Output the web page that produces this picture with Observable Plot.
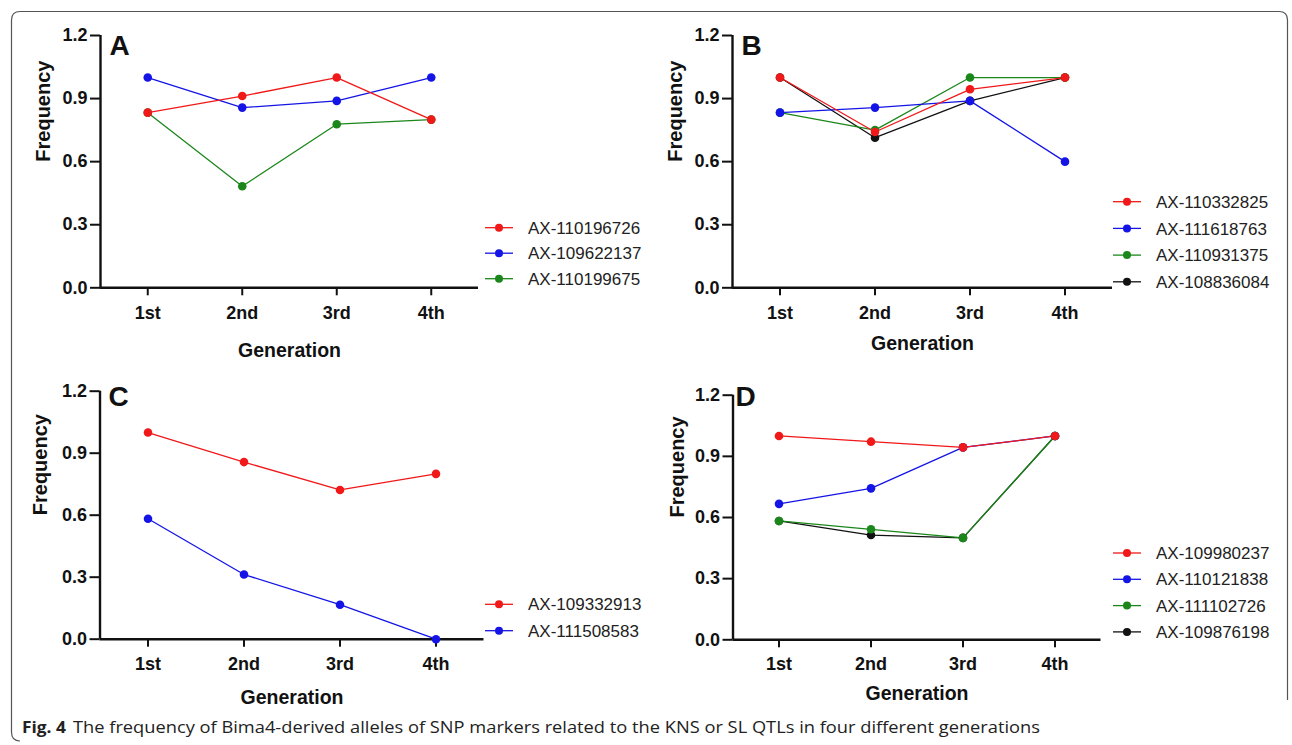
<!DOCTYPE html>
<html><head><meta charset="utf-8">
<script src="https://cdn.jsdelivr.net/npm/d3@7"></script>
<script src="https://cdn.jsdelivr.net/npm/@observablehq/plot@0.6"></script>
<style>
body{margin:0;background:#fff;}
#root{position:relative;width:1292px;height:745px;overflow:hidden;background:#fff;}
.panel{position:absolute;}
#overlay{position:absolute;left:0;top:0;}
</style></head><body><div id="root"></div>
<script>
// ---------- data ----------
const generations = ["1st", "2nd", "3rd", "4th"];
const yTicks = [0, 0.3, 0.6, 0.9, 1.2];

const markersA = ["AX-110196726", "AX-109622137", "AX-110199675"];
const freqA = [
  [0.833, 0.912, 1.0, 0.8],
  [1.0, 0.857, 0.889, 1.0],
  [0.833, 0.483, 0.778, 0.8]
];

const markersB = ["AX-110332825", "AX-111618763", "AX-110931375", "AX-108836084"];
const freqB = [
  [1.0, 0.741, 0.944, 1.0],
  [0.833, 0.857, 0.889, 0.6],
  [0.833, 0.75, 1.0, 1.0],
  [1.0, 0.714, 0.889, 1.0]
];

const markersC = ["AX-109332913", "AX-111508583"];
const freqC = [
  [1.0, 0.857, 0.722, 0.8],
  [0.583, 0.313, 0.167, 0.0]
];

const markersD = ["AX-109980237", "AX-110121838", "AX-111102726", "AX-109876198"];
const freqD = [
  [1.0, 0.972, 0.944, 1.0],
  [0.667, 0.743, 0.944, 1.0],
  [0.583, 0.542, 0.5, 1.0],
  [0.583, 0.514, 0.5, 1.0]
];

const caption = "The frequency of Bima4-derived alleles of SNP markers related to the KNS or SL QTLs in four different generations";

// ---------- styles ----------
const seriesColors = ["#f01818", "#1414e6", "#1b871b", "#111111"];
const FONT = "'Liberation Sans', Arial, Helvetica, sans-serif";

const root = document.getElementById("root");

function panel(cfg, markers, values) {
  const data = [];
  // draw last series first so the first series sits on top
  for (let i = markers.length - 1; i >= 0; i--) {
    values[i].forEach((v, j) => data.push({marker: markers[i], gen: j + 1, v}));
  }
  const mb = 80, mr = 4;
  const plot = Plot.plot({
    width: cfg.ml + cfg.frameW + mr,
    height: cfg.mt + cfg.frameH + mb,
    marginLeft: cfg.ml, marginRight: mr, marginTop: cfg.mt, marginBottom: mb,
    style: {fontFamily: FONT, background: "transparent", overflow: "visible", color: "#111"},
    x: {type: "linear", domain: [0.5, 4.5]},
    y: {domain: [0, 1.2]},
    color: {domain: markers, range: seriesColors.slice(0, markers.length)},
    marks: [
      Plot.axisY(yTicks, {tickFormat: d3.format(".1f"), tickSize: 10, tickPadding: 3, strokeWidth: 2,
        fontSize: 18, fontWeight: "bold", label: null}),
      Plot.axisX([1, 2, 3, 4], {tickFormat: d => generations[d - 1], tickSize: 8, tickPadding: cfg.tp,
        strokeWidth: 2, fontSize: 18, fontWeight: "bold", label: null}),
      Plot.ruleX([0.5], {strokeWidth: 2.4, stroke: "#111"}),
      Plot.ruleY([0], {strokeWidth: 2.4, stroke: "#111"}),
      Plot.line(data, {x: "gen", y: "v", z: "marker", stroke: "marker", strokeWidth: 1.3}),
      Plot.dot(data, {x: "gen", y: "v", fill: "marker", r: 4.3}),
      Plot.text(["Generation"], {frameAnchor: "bottom", dy: cfg.genY, lineAnchor: "middle",
        fontSize: 19.5, fontWeight: "bold", fill: "#111"}),
      Plot.text(["Frequency"], {frameAnchor: "left", dx: cfg.freqX, rotate: -90, lineAnchor: "middle",
        fontSize: 20, fontWeight: "bold", fill: "#111"}),
      Plot.text([cfg.letter], {frameAnchor: "top-left", dx: cfg.ldx, dy: cfg.ldy, textAnchor: "start",
        lineAnchor: "middle", fontSize: 28, fontWeight: "bold", fill: "#111"})
    ]
  });
  plot.classList.add("panel");
  plot.style.left = cfg.left + "px";
  plot.style.top = cfg.top + "px";
  root.appendChild(plot);
}

panel({left: 0, top: 0, ml: 100, frameW: 378, mt: 35, frameH: 252.3, tp: 10,
       genY: 62.7, freqX: -57, letter: "A", ldx: 9, ldy: 11}, markersA, freqA);
panel({left: 632, top: 0, ml: 100, frameW: 380, mt: 35, frameH: 252.3, tp: 10,
       genY: 55.7, freqX: -57, letter: "B", ldx: 9, ldy: 11}, markersB, freqB);
panel({left: 0, top: 355, ml: 99.5, frameW: 384, mt: 35.7, frameH: 248, tp: 10,
       genY: 58.3, freqX: -59.5, letter: "C", ldx: 8.5, ldy: 6}, markersC, freqC);
panel({left: 632, top: 360, ml: 100.5, frameW: 368, mt: 34.7, frameH: 244.6, tp: 9,
       genY: 53.7, freqX: -55.5, letter: "D", ldx: 2.5, ldy: 2}, markersD, freqD);

// ---------- overlay: legends, caption, border ----------
const svg = d3.select(root).append("svg").attr("id", "overlay")
  .attr("width", 1292).attr("height", 745).style("pointer-events", "none");

function legend(markers, x, y0, step) {
  const g = svg.append("g").attr("font-family", FONT).attr("font-size", 17);
  markers.forEach((m, i) => {
    const y = y0 + i * step;
    const c = seriesColors[i];
    g.append("line").attr("x1", x).attr("x2", x + 28).attr("y1", y).attr("y2", y)
      .attr("stroke", c).attr("stroke-width", 1.3);
    g.append("circle").attr("cx", x + 14).attr("cy", y).attr("r", 4).attr("fill", c);
    g.append("text").attr("x", x + 43).attr("y", y).attr("dy", "0.36em").attr("fill", "#222").text(m);
  });
}
legend(markersA, 485, 227.7, 25.5);
legend(markersB, 1113, 201.7, 26.7);
legend(markersC, 485, 604.3, 26.4);
legend(markersD, 1113, 553, 26.3);

const cap = svg.append("g").attr("font-family", "'Open Sans', 'Noto Sans', sans-serif").attr("font-size", 16.5).attr("fill", "#222");
cap.append("text").attr("x", 22).attr("y", 733).attr("font-weight", "bold")
  .attr("textLength", 44).attr("lengthAdjust", "spacingAndGlyphs").text("Fig. 4");
cap.append("text").attr("x", 73).attr("y", 733)
  .attr("textLength", 967).attr("lengthAdjust", "spacingAndGlyphs").text(caption);

svg.append("path")
  .attr("d", "M1287.5,700 L1287.5,20 Q1287.5,11.5 1279,11.5 L20,11.5 Q11.5,11.5 11.5,20 L11.5,732 Q11.5,741 20,741")
  .attr("fill", "none").attr("stroke", "#555").attr("stroke-width", 1.2);
</script></body></html>
